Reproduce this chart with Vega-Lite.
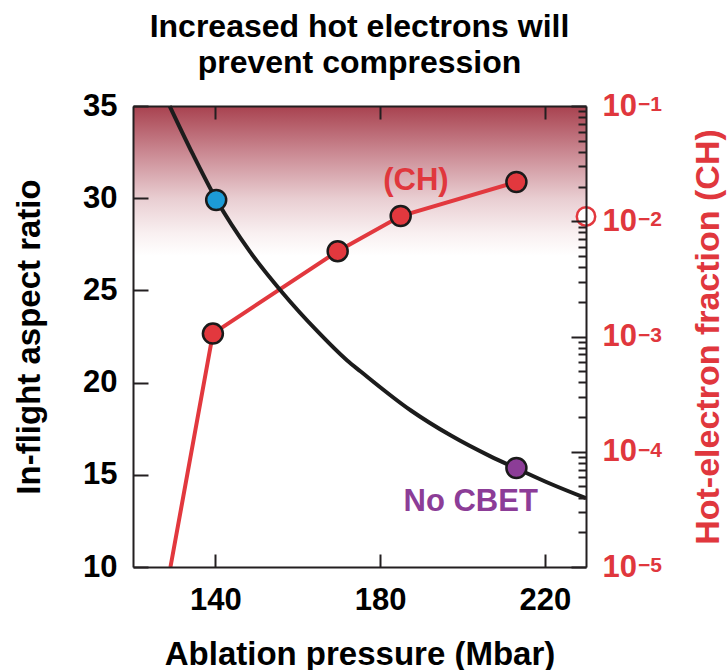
{
  "$schema": "https://vega.github.io/schema/vega-lite/v6.json",
  "autosize": {"type": "none"},
  "width": 453,
  "height": 461,
  "padding": {"left": 133, "top": 106, "right": 142, "bottom": 103},
  "background": "white",
  "title": {
    "text": ["Increased hot electrons will", "prevent compression"],
    "font": "Liberation Sans",
    "fontSize": 32,
    "fontWeight": "bold",
    "color": "#000000",
    "lineHeight": 36,
    "anchor": "middle",
    "baseline": "bottom",
    "offset": -22
  },
  "config": {
    "view": {"stroke": null},
    "axis": {
      "domainColor": "#231f20",
      "domainWidth": 2,
      "tickColor": "#231f20",
      "tickWidth": 2,
      "grid": false,
      "labelFont": "Liberation Sans",
      "labelFontWeight": "bold",
      "labelFontSize": 31,
      "labelColor": "#000000",
      "titleFont": "Liberation Sans",
      "titleFontWeight": "bold",
      "titleFontSize": 33,
      "titleColor": "#000000",
      "labelOverlap": false,
      "labelFlush": false
    }
  },
  "datasets": {
    "aspect": [
      {"p": 128.9, "ar": 35.0},
      {"p": 134.5, "ar": 32.4},
      {"p": 140.3, "ar": 29.9},
      {"p": 148.4, "ar": 27.1},
      {"p": 156.2, "ar": 24.9},
      {"p": 164.7, "ar": 22.8},
      {"p": 172.0, "ar": 21.2},
      {"p": 175.3, "ar": 20.6},
      {"p": 187.4, "ar": 18.5},
      {"p": 197.1, "ar": 17.14},
      {"p": 206.8, "ar": 16.0},
      {"p": 213.1, "ar": 15.35},
      {"p": 221.5, "ar": 14.5},
      {"p": 230.0, "ar": 13.73}
    ],
    "cases": [
      {"case": "CBET", "p": 140.2, "ar": 29.9},
      {"case": "No CBET", "p": 213.1, "ar": 15.37}
    ],
    "caseLabel": [
      {"label": "No CBET", "p": 202.0, "ar": 13.5}
    ],
    "hot": [
      {"p": 129.1, "f": 0.00001, "kind": "extrapolated"},
      {"p": 139.4, "f": 0.00106, "kind": "measured"},
      {"p": 169.7, "f": 0.0055, "kind": "measured"},
      {"p": 185.0, "f": 0.0111, "kind": "measured"},
      {"p": 213.1, "f": 0.0219, "kind": "measured"}
    ],
    "threshold": [
      {"p": 230.0, "f": 0.011}
    ],
    "hotLabel": [
      {"label": "(CH)", "p": 188.7, "f": 0.0225}
    ],
    "decades": [
      {"f": 0.1, "exp": "−1"},
      {"f": 0.01, "exp": "−2"},
      {"f": 0.001, "exp": "−3"},
      {"f": 0.0001, "exp": "−4"},
      {"f": 0.00001, "exp": "−5"}
    ],
    "zone": [
      {"zone": "high hot-electron fraction", "p0": 120, "p1": 230, "f0": 0.1, "f1": 0.005}
    ]
  },
  "layer": [
    {
      "layer": [
        {
          "data": {"name": "zone"},
          "mark": {
            "type": "rect",
            "fill": {
              "gradient": "linear",
              "x1": 0, "y1": 0, "x2": 0, "y2": 1,
              "stops": [
                {"offset": 0, "color": "#a8424f"},
                {"offset": 0.3, "color": "#c98690"},
                {"offset": 0.62, "color": "#e9ced2"},
                {"offset": 0.85, "color": "#f9f0f1"},
                {"offset": 1, "color": "#ffffff"}
              ]
            }
          },
          "encoding": {
            "x": {"field": "p0", "type": "quantitative", "title": "p",
              "scale": {"domain": [120, 230], "nice": false, "zero": false},
              "axis": {"orient": "top", "values": [140, 180, 220], "labels": false, "title": null, "tickSize": -13, "zindex": 1}},
            "x2": {"field": "p1"},
            "y": {"field": "f0", "type": "quantitative", "title": "Hot-electron fraction (CH)",
              "scale": {"type": "log", "domain": [0.00001, 0.1], "nice": false},
              "axis": {
                "orient": "right",
                "zindex": 1,
                "values": [0.00001, 0.00002, 0.00003, 0.00004, 0.00005, 0.00006, 0.00007, 0.00008, 0.00009,
                           0.0001, 0.0002, 0.0003, 0.0004, 0.0005, 0.0006, 0.0007, 0.0008, 0.0009,
                           0.001, 0.002, 0.003, 0.004, 0.005, 0.006, 0.007, 0.008, 0.009,
                           0.01, 0.02, 0.03, 0.04, 0.05, 0.06, 0.07, 0.08, 0.09, 0.1],
                "labelExpr": "indexof([0.1, 0.01, 0.001, 0.0001, 0.00001], datum.value) >= 0 ? '10' : ''",
                "tickSize": {"condition": {"test": "indexof([0.1, 0.01, 0.001, 0.0001, 0.00001], datum.value) >= 0", "value": -15}, "value": -8},
                "labelPadding": 31,
                "labelColor": "#e0373d",
                "title": "Hot-electron fraction (CH)",
                "titleColor": "#e0373d",
                "titleFontSize": 34,
                "titleAngle": 270,
                "titlePadding": 89
              }},
            "y2": {"field": "f1"}
          }
        },
        {
          "data": {"name": "hot"},
          "mark": {"type": "line", "color": "#e2383e", "strokeWidth": 4},
          "encoding": {
            "x": {"field": "p", "type": "quantitative", "title": "p", "scale": {"domain": [120, 230], "nice": false, "zero": false}},
            "y": {"field": "f", "type": "quantitative", "title": "Hot-electron fraction (CH)", "scale": {"type": "log", "domain": [0.00001, 0.1], "nice": false}}
          }
        },
        {
          "data": {"name": "hot"},
          "transform": [{"filter": "datum.kind == 'measured'"}],
          "mark": {"type": "point", "filled": true, "fill": "#e2383e", "stroke": "#1a1a1a", "strokeWidth": 2.5, "size": 400, "opacity": 1},
          "encoding": {
            "x": {"field": "p", "type": "quantitative", "title": "p", "scale": {"domain": [120, 230], "nice": false, "zero": false}},
            "y": {"field": "f", "type": "quantitative", "title": "Hot-electron fraction (CH)", "scale": {"type": "log", "domain": [0.00001, 0.1], "nice": false}}
          }
        },
        {
          "data": {"name": "threshold"},
          "mark": {"type": "point", "filled": true, "fill": "#ffffff", "stroke": "#e2383e", "strokeWidth": 2.5, "size": 340, "opacity": 1},
          "encoding": {
            "x": {"field": "p", "type": "quantitative", "title": "p", "scale": {"domain": [120, 230], "nice": false, "zero": false}},
            "y": {"field": "f", "type": "quantitative", "title": "Hot-electron fraction (CH)", "scale": {"type": "log", "domain": [0.00001, 0.1], "nice": false}}
          }
        },
        {
          "data": {"name": "hotLabel"},
          "mark": {"type": "text", "font": "Liberation Sans", "fontSize": 31, "fontWeight": "bold", "color": "#e0373d", "align": "center", "baseline": "middle"},
          "encoding": {
            "x": {"field": "p", "type": "quantitative", "title": "p", "scale": {"domain": [120, 230], "nice": false, "zero": false}},
            "y": {"field": "f", "type": "quantitative", "title": "Hot-electron fraction (CH)", "scale": {"type": "log", "domain": [0.00001, 0.1], "nice": false}},
            "text": {"field": "label"}
          }
        },
        {
          "data": {"name": "decades"},
          "mark": {"type": "text", "font": "Liberation Sans", "fontSize": 21, "fontWeight": "bold", "color": "#e0373d", "align": "left", "baseline": "top", "dx": 52, "dy": -12},
          "encoding": {
            "x": {"datum": 230, "type": "quantitative", "scale": {"domain": [120, 230], "nice": false, "zero": false}},
            "y": {"field": "f", "type": "quantitative", "title": "Hot-electron fraction (CH)", "scale": {"type": "log", "domain": [0.00001, 0.1], "nice": false}},
            "text": {"field": "exp"}
          }
        }
      ]
    },
    {
      "layer": [
        {
          "data": {"name": "aspect"},
          "mark": {"type": "line", "color": "#1c1c1c", "strokeWidth": 4, "interpolate": "monotone"},
          "encoding": {
            "x": {
              "field": "p", "type": "quantitative", "title": "Ablation pressure (Mbar)",
              "scale": {"domain": [120, 230], "nice": false, "zero": false},
              "axis": {"orient": "bottom", "zindex": 1, "values": [140, 180, 220], "tickSize": -13, "labelPadding": 31, "title": "Ablation pressure (Mbar)", "titlePadding": 23}
            },
            "y": {
              "field": "ar", "type": "quantitative", "title": "In-flight aspect ratio",
              "scale": {"domain": [10, 35], "nice": false, "zero": false},
              "axis": {"orient": "left", "zindex": 1, "values": [10, 15, 20, 25, 30, 35], "tickSize": -15, "labelPadding": 31, "title": "In-flight aspect ratio", "titlePadding": 36}
            }
          }
        },
        {
          "data": {"name": "cases"},
          "mark": {"type": "point", "filled": true, "stroke": "#1a1a1a", "strokeWidth": 2.5, "size": 400, "opacity": 1},
          "encoding": {
            "x": {"field": "p", "type": "quantitative", "title": "Ablation pressure (Mbar)", "scale": {"domain": [120, 230], "nice": false, "zero": false}},
            "y": {"field": "ar", "type": "quantitative", "title": "In-flight aspect ratio", "scale": {"domain": [10, 35], "nice": false, "zero": false}},
            "fill": {"field": "case", "type": "nominal", "scale": {"domain": ["CBET", "No CBET"], "range": ["#1c9bd7", "#8c3d97"]}, "legend": null}
          }
        },
        {
          "data": {"name": "caseLabel"},
          "mark": {"type": "text", "font": "Liberation Sans", "fontSize": 31, "fontWeight": "bold", "color": "#8c3d97", "align": "center", "baseline": "middle"},
          "encoding": {
            "x": {"field": "p", "type": "quantitative", "title": "Ablation pressure (Mbar)", "scale": {"domain": [120, 230], "nice": false, "zero": false}},
            "y": {"field": "ar", "type": "quantitative", "title": "In-flight aspect ratio", "scale": {"domain": [10, 35], "nice": false, "zero": false}},
            "text": {"field": "label"}
          }
        }
      ]
    }
  ],
  "resolve": {"scale": {"x": "independent", "y": "independent"}}
}
